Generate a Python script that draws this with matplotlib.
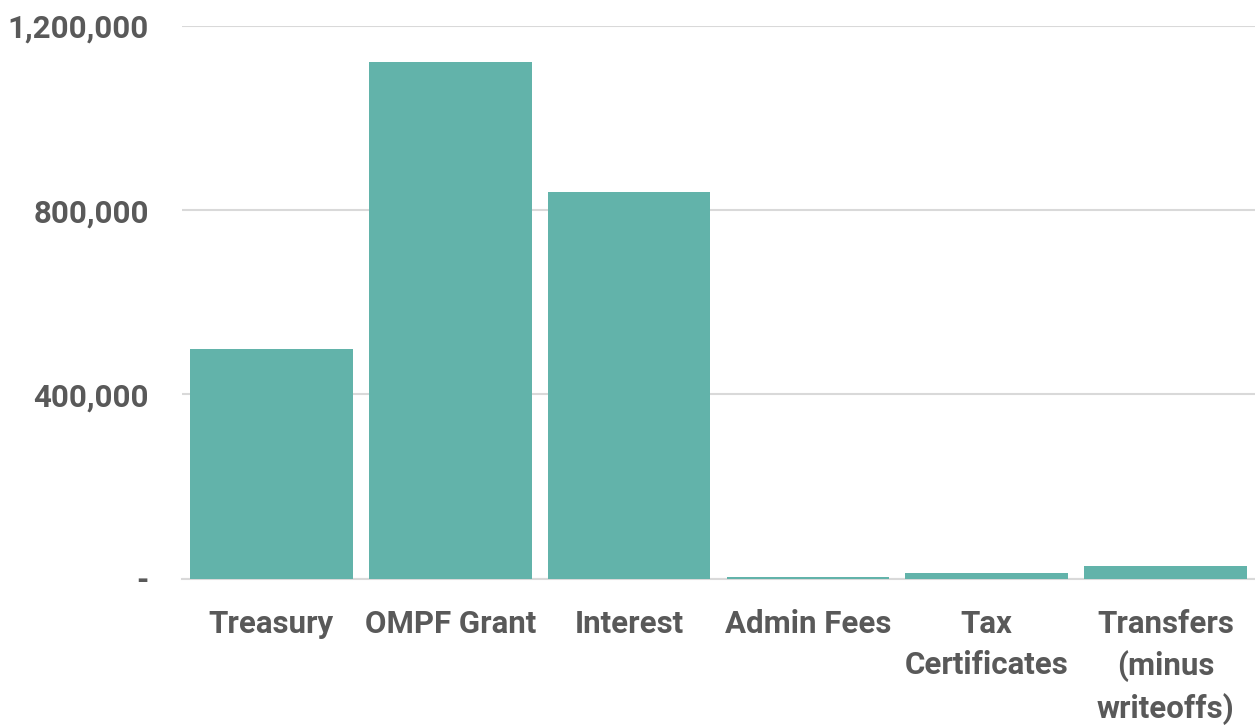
import numpy as np
import matplotlib.pyplot as plt
from matplotlib.ticker import FuncFormatter

categories = ["Treasury", "OMPF Grant", "Interest", "Admin Fees",
              "Tax\nCertificates", "Transfers\n(minus\nwriteoffs)"]
values = [498000, 1121000, 839000, 4000, 12500, 28000]
yticks = [0, 400000, 800000, 1200000]

bar_color = "#62B3AA"
text_color = "#595959"

plt.rcParams['font.family'] = ['Roboto', 'DejaVu Sans']

fig = plt.figure(figsize=(12.55, 7.28), dpi=100)
ax = fig.add_axes([182/1255, 1 - 578.5/728, 1 - 182/1255, (578.5 - 26)/728])

x = np.arange(len(categories))
ax.bar(x, values, width=0.91, color=bar_color, zorder=3)

ax.set_xlim(-0.5, len(categories) - 0.5)
ax.set_ylim(0, 1200000)
ax.set_yticks(yticks)
ax.yaxis.set_major_formatter(FuncFormatter(lambda v, p: "-" if v == 0 else f"{v:,.0f}"))
ax.set_xticks(x)
ax.set_xticklabels(categories, linespacing=1.45, va="top")

ax.grid(axis="y", color="#D9D9D9", linewidth=1.5, zorder=0)
for s in ["top", "right", "left"]:
    ax.spines[s].set_visible(False)
ax.spines["bottom"].set_color("#D9D9D9")
ax.spines["bottom"].set_linewidth(1.5)

ax.tick_params(axis="both", length=0, labelsize=22.5, labelcolor=text_color)
ax.tick_params(axis="y", pad=24)
ax.tick_params(axis="x", pad=22)
for lbl in ax.get_xticklabels() + ax.get_yticklabels():
    lbl.set_fontweight("bold")

fig.savefig("out.png", dpi=100)
